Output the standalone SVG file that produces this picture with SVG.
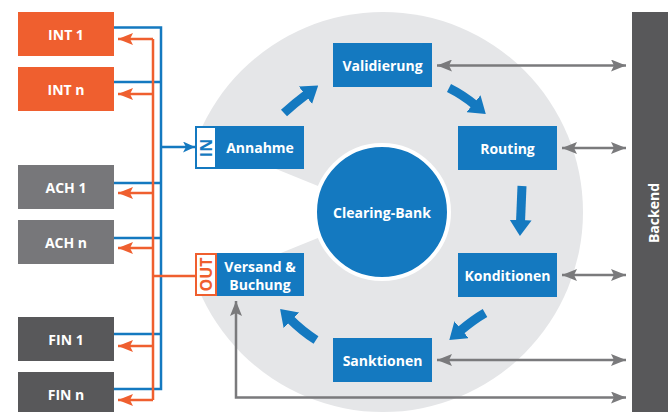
<svg xmlns="http://www.w3.org/2000/svg" width="668" height="412" viewBox="0 0 668 412">
<style>
text{font-family:"Open Sans","Liberation Sans",sans-serif;font-weight:700;font-size:14px;text-anchor:middle;dominant-baseline:central}
.tag{font-size:16px}
.wt{fill:#ffffff}
.blue{fill:#1479C0}
.orange{fill:#EF5F2F}
.ach{fill:#77777A}
.fin{fill:#58585A}
.bl{stroke:#1479C0;stroke-width:2.5;fill:none}
.or{stroke:#EF5F2F;stroke-width:2.5;fill:none}
.gr{stroke:#7A7A7C;stroke-width:2.5;fill:none}
.thick{stroke:#1479C0;stroke-width:9;fill:none}
</style>
<defs>
<marker id="ho" markerUnits="userSpaceOnUse" viewBox="0 0 15 12" markerWidth="15" markerHeight="12" refX="15" refY="6" orient="auto-start-reverse"><path d="M0,0 L15,6 L0,12 L3,6 z" fill="#EF5F2F"/></marker>
<marker id="hb" markerUnits="userSpaceOnUse" viewBox="0 0 12 11" markerWidth="12" markerHeight="11" refX="12" refY="5.5" orient="auto-start-reverse"><path d="M0,0 L12,5.5 L0,11 L3,5.5 z" fill="#1479C0"/></marker>
<marker id="hg" markerUnits="userSpaceOnUse" viewBox="0 0 15 12" markerWidth="15" markerHeight="12" refX="15" refY="6" orient="auto-start-reverse"><path d="M0,0 L15,6 L0,12 L3,6 z" fill="#7A7A7C"/></marker>
<marker id="hk" markerUnits="userSpaceOnUse" viewBox="0 0 16 22" markerWidth="16" markerHeight="22" refX="2" refY="11" orient="auto"><path d="M0,0 L16,11 L0,22 z" fill="#1479C0"/></marker>
</defs>

<g id="background">
<circle cx="383" cy="212" r="200" fill="#E5E6E8"/>
<polygon points="382,212 160,122 160,302" fill="#ffffff"/>
</g>

<g id="backend">
<rect x="632" y="12" width="36" height="400" class="fin"/>
<text class="wt" transform="translate(653,213) rotate(-90)">Backend</text>
</g>

<g id="connectors">
<path class="bl" d="M114,27.5 H161 V389 H114"/>
<path class="bl" d="M114,82 H161 M114,183 H161 M114,238 H161 M114,334 H161"/>
<path class="bl" d="M161,147 H195" marker-end="url(#hb)"/>
<path class="or" d="M153,39 V400"/>
<path class="or" d="M153,39 H118" marker-end="url(#ho)"/>
<path class="or" d="M153,94 H118" marker-end="url(#ho)"/>
<path class="or" d="M153,193 H118" marker-end="url(#ho)"/>
<path class="or" d="M153,248 H118" marker-end="url(#ho)"/>
<path class="or" d="M153,346 H118" marker-end="url(#ho)"/>
<path class="or" d="M153,400 H118" marker-end="url(#ho)"/>
<path class="or" d="M153,276 H195"/>
<path class="thick" d="M284,113 Q295,103 307,94" marker-end="url(#hk)"/>
<path class="thick" d="M449,88 Q463,95 475,105" marker-end="url(#hk)"/>
<path class="thick" d="M522,186 L520.5,222" marker-end="url(#hk)"/>
<path class="thick" d="M485,313 Q473,320 460,331" marker-end="url(#hk)"/>
<path class="thick" d="M316,340 Q302,331 290,319" marker-end="url(#hk)"/>
<path class="gr" d="M437,65.5 H626" marker-start="url(#hg)" marker-end="url(#hg)"/>
<path class="gr" d="M562,148 H626" marker-start="url(#hg)" marker-end="url(#hg)"/>
<path class="gr" d="M562,275 H626" marker-start="url(#hg)" marker-end="url(#hg)"/>
<path class="gr" d="M437,360 H626" marker-start="url(#hg)" marker-end="url(#hg)"/>
<path class="gr" d="M236,301 V397.5 H626" marker-start="url(#hg)" marker-end="url(#hg)"/>
</g>

<g id="int1"><rect x="18" y="12" width="96" height="44" class="orange"/><text class="wt" x="66" y="34">INT 1</text></g>
<g id="intn"><rect x="18" y="67" width="96" height="44" class="orange"/><text class="wt" x="66" y="89">INT n</text></g>
<g id="ach1"><rect x="18" y="165" width="96" height="44" class="ach"/><text class="wt" x="66" y="187">ACH 1</text></g>
<g id="achn"><rect x="18" y="220" width="96" height="44" class="ach"/><text class="wt" x="66" y="242">ACH n</text></g>
<g id="fin1"><rect x="18" y="317" width="96" height="44" class="fin"/><text class="wt" x="66" y="339">FIN 1</text></g>
<g id="finn"><rect x="18" y="372" width="96" height="44" class="fin"/><text class="wt" x="66" y="394">FIN n</text></g>

<g id="annahme">
<rect x="195" y="126" width="109" height="43" class="blue"/>
<rect x="196" y="127" width="20" height="41" fill="#ffffff" stroke="#1479C0" stroke-width="2"/>
<text class="blue tag" transform="translate(206,148) rotate(-90)">IN</text>
<text class="wt" x="260" y="147">Annahme</text>
</g>
<g id="versand">
<rect x="195" y="253" width="109" height="43" class="blue"/>
<rect x="196" y="254" width="20" height="41" fill="#ffffff" stroke="#EF5F2F" stroke-width="2"/>
<text class="orange tag" transform="translate(206,274.5) rotate(-90)">OUT</text>
<text class="wt" x="260" y="266.5">Versand &amp;</text>
<text class="wt" x="260" y="284">Buchung</text>
</g>
<g id="validierung"><rect x="333" y="43" width="99" height="44" class="blue"/><text class="wt" x="382.5" y="65">Validierung</text></g>
<g id="routing"><rect x="458" y="126" width="99" height="44" class="blue"/><text class="wt" x="507.5" y="148">Routing</text></g>
<g id="konditionen"><rect x="458" y="253" width="99" height="44" class="blue"/><text class="wt" x="507.5" y="275">Konditionen</text></g>
<g id="sanktionen"><rect x="333" y="338" width="99" height="44" class="blue"/><text class="wt" x="382.5" y="360">Sanktionen</text></g>
<g id="clearing">
<circle cx="382" cy="212" r="67" class="blue" stroke="#ffffff" stroke-width="4"/>
<text class="wt" x="382" y="212">Clearing-Bank</text>
</g>
</svg>
